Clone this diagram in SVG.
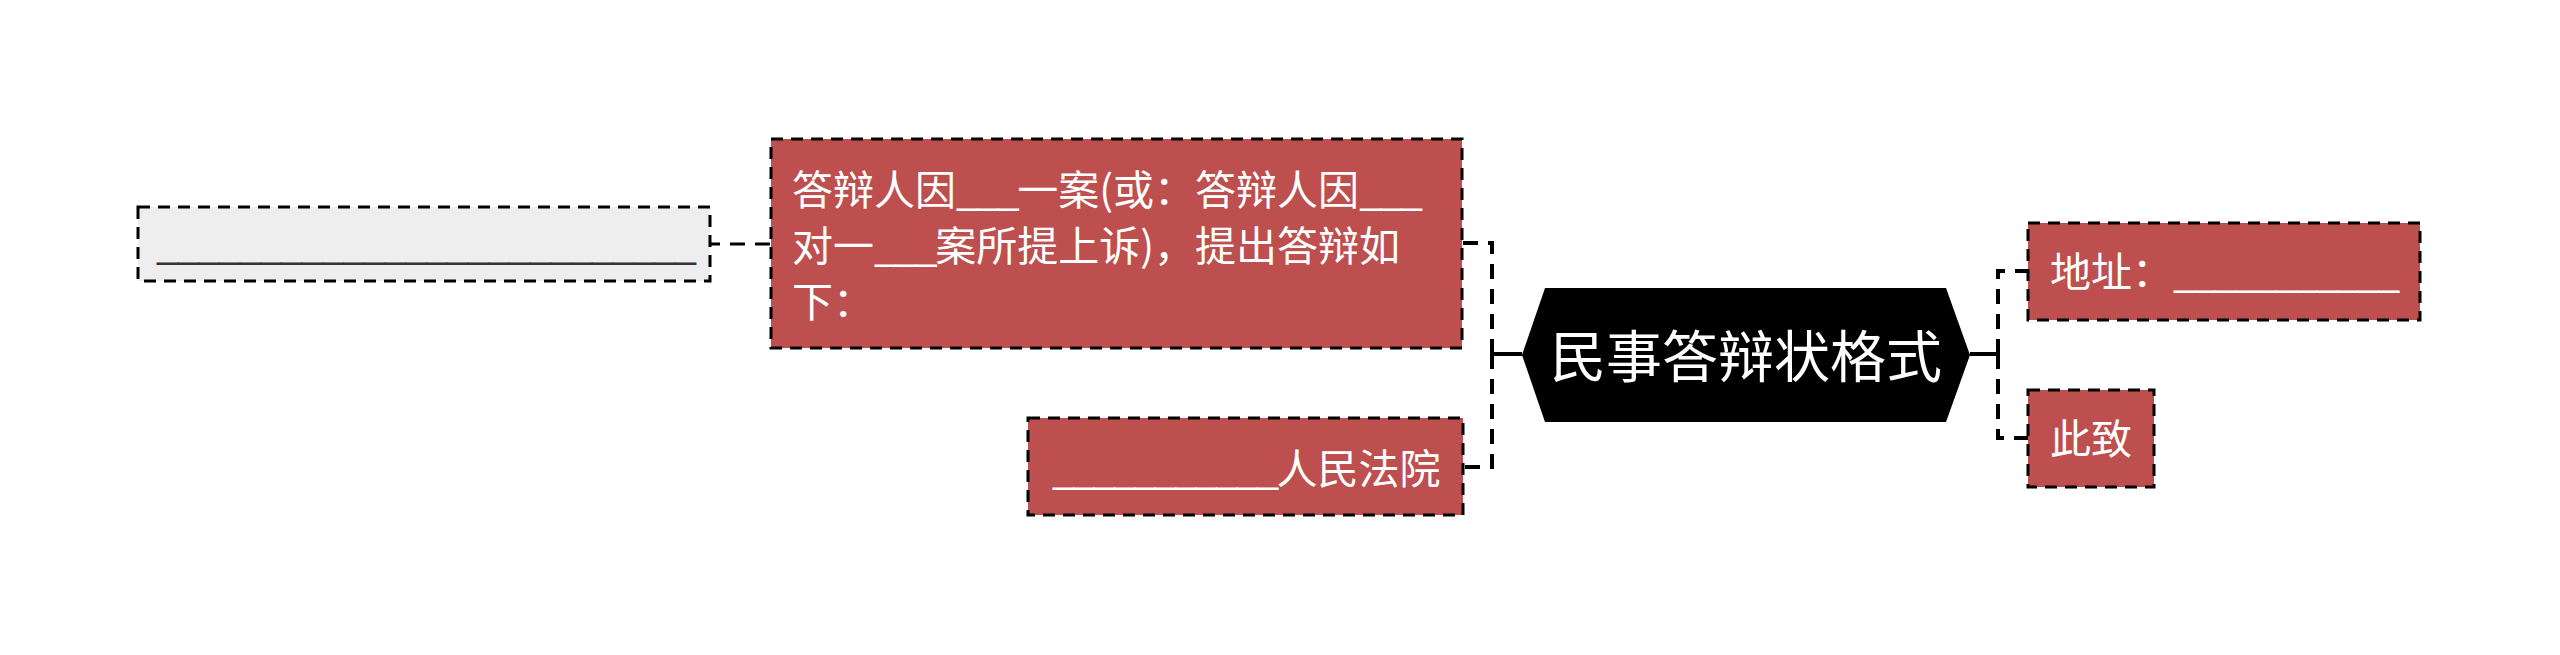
<svg xmlns="http://www.w3.org/2000/svg" width="2560" height="655" viewBox="0 0 2560 655">
<style>
.bg{fill:#ffffff}
.red{fill:#BD4F4E;stroke:#000000;stroke-width:3;stroke-dasharray:12 8}
.gray{fill:#EEEEEE;stroke:#000000;stroke-width:3;stroke-dasharray:12 8}
.t{font-family:"Noto Sans CJK SC","Noto Sans",sans-serif;font-size:41px;fill:#ffffff}
.tg{font-family:"Noto Sans CJK SC","Noto Sans",sans-serif;font-size:41px;fill:#333333}
.u{letter-spacing:-2.5px}
.ug{letter-spacing:-2.2px}
.root{font-family:"Noto Sans CJK SC","Noto Sans",sans-serif;font-size:56px;fill:#ffffff}
.solid{fill:none;stroke:#000000;stroke-width:4}
.dash{fill:none;stroke:#000000;stroke-width:4;stroke-dasharray:15 10}
.dash2{fill:none;stroke:#000000;stroke-width:3;stroke-dasharray:15 10}
</style>
<rect class="bg" x="0" y="0" width="2560" height="655"/>
<g id="connectors">
<path class="solid" d="M1970,354 H1998"/>
<path class="dash" d="M1998,354 V271 H2028"/>
<path class="dash" d="M1998,354 V438 H2028"/>
<path class="solid" d="M1522,354 H1492"/>
<path class="dash" d="M1492,354 V243 H1462"/>
<path class="dash" d="M1492,354 V467 H1463"/>
<path class="dash2" d="M770,244 H710"/>
</g>
<g id="root">
<polygon points="1522,355 1545,288 1946,288 1970,355 1946,422 1545,422" fill="#000000"/>
<text class="root" x="1746" y="377" text-anchor="middle">民事答辩状格式</text>
</g>
<g id="node-address">
<rect class="red" x="2028" y="223" width="392" height="97"/>
<text class="t" x="2050" y="287">地址：<tspan class="u">___________</tspan></text>
</g>
<g id="node-cizhi">
<rect class="red" x="2028" y="390" width="126" height="97"/>
<text class="t" x="2050" y="454">此致</text>
</g>
<g id="node-defense">
<rect class="red" x="771" y="139" width="691" height="209"/>
<text class="t" x="792" y="205">答辩人因<tspan class="u">___</tspan>一案(或：答辩人因<tspan class="u">___</tspan></text>
<text class="t" x="792" y="261">对一<tspan class="u">___</tspan>案所提上诉)，提出答辩如</text>
<text class="t" x="792" y="317">下：</text>
</g>
<g id="node-court">
<rect class="red" x="1028" y="418" width="435" height="97"/>
<text class="t" x="1052" y="484"><tspan class="u">___________</tspan>人民法院</text>
</g>
<g id="node-blank">
<rect class="gray" x="138" y="207" width="572" height="74"/>
<text class="tg" x="156" y="259"><tspan class="ug">__________________________</tspan></text>
</g>
</svg>
